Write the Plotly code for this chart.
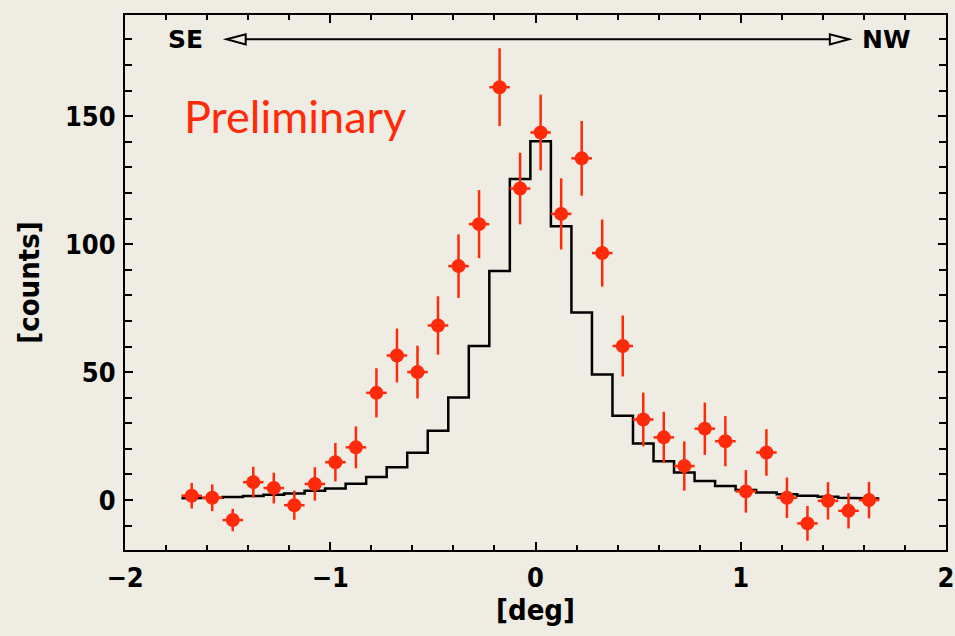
import plotly.graph_objects as go

# ---- data ----
bin_centers = [round(-1.675 + 0.1 * i, 3) for i in range(34)]
counts = [1.7, 0.9, -7.8, 7.0, 4.7, -2.0, 6.3, 14.8, 20.6, 41.9, 56.5, 50.0, 68.2,
          91.4, 107.8, 161.3, 121.7, 143.6, 111.8, 133.5, 96.5, 60.2, 31.5, 24.5,
          13.3, 27.9, 23.0, 3.4, 18.6, 0.9, -9.1, -0.3, -4.2, 0.0]
count_err = [5.0, 5.2, 4.4, 6.0, 6.0, 5.7, 6.5, 7.5, 8.2, 9.6, 10.5, 10.3, 11.4,
             12.4, 13.3, 15.2, 14.0, 14.8, 13.9, 14.6, 13.1, 11.9, 10.5, 10.0,
             9.6, 10.2, 9.8, 8.3, 9.1, 7.9, 6.8, 7.3, 6.9, 7.1]
model = [0.7, 0.9, 1.2, 1.6, 2.1, 2.6, 3.6, 4.5, 6.4, 9.0, 12.8, 18.5, 27.1, 40.1,
         60.2, 89.5, 125.4, 140.2, 107.0, 73.3, 49.1, 32.9, 22.1, 15.2, 10.8, 7.5,
         5.5, 3.9, 3.0, 2.3, 1.7, 1.3, 0.9, 0.65]
half_bin = 0.05
x_ticks = [-2, -1, 0, 1, 2]
y_ticks = [0, 50, 100, 150]

RED = "#ff2a0a"
BG = "#efece3"
FONT = "DejaVu Sans"
FONT_C = "DejaVu Sans Condensed, DejaVu Sans"

fig = go.Figure()

# model histogram (step line through bin edges)
step_x, step_y = [], []
for c, m in zip(bin_centers, model):
    step_x += [c - half_bin, c + half_bin]
    step_y += [m, m]
fig.add_trace(go.Scatter(x=step_x, y=step_y, mode="lines",
                         line=dict(color="black", width=2.5), hoverinfo="skip",
                         showlegend=False))

# data points with error bars
fig.add_trace(go.Scatter(
    x=bin_centers, y=counts, mode="markers",
    marker=dict(color=RED, size=14),
    error_y=dict(type="data", array=count_err, visible=True, color=RED,
                 thickness=2.5, width=0),
    error_x=dict(type="constant", value=half_bin, visible=True, color=RED,
                 thickness=2.5, width=0),
    showlegend=False))

# SE <-> NW arrow
ya = 180
x_left, x_right = -1.505, 1.527
ah_len, ah_h = 0.093, 2.0
fig.add_shape(type="line", x0=x_left + ah_len, x1=x_right - ah_len, y0=ya, y1=ya,
              line=dict(color="black", width=2))
fig.add_shape(type="path",
              path=f"M {x_left} {ya} L {x_left + ah_len} {ya + ah_h} L {x_left + ah_len} {ya - ah_h} Z",
              line=dict(color="black", width=2), fillcolor=BG)
fig.add_shape(type="path",
              path=f"M {x_right} {ya} L {x_right - ah_len} {ya + ah_h} L {x_right - ah_len} {ya - ah_h} Z",
              line=dict(color="black", width=2), fillcolor=BG)
fig.add_annotation(x=-1.705, y=ya, text="SE", showarrow=False, xanchor="center",
                   font=dict(family=FONT, size=25, color="black", weight="bold"))
fig.add_annotation(x=1.71, y=ya, text="NW", showarrow=False, xanchor="center",
                   font=dict(family=FONT, size=25, color="black", weight="bold"))
fig.add_annotation(x=-1.72, y=150, text="Preliminary", showarrow=False,
                   xanchor="left", yanchor="middle",
                   font=dict(family="Lato", size=45, color=RED))

axis_common = dict(showline=True, linecolor="black", linewidth=2, mirror="ticks",
                   ticks="inside", ticklen=8, tickwidth=2, tickcolor="black",
                   showgrid=False, zeroline=False,
                   tickfont=dict(family=FONT_C, size=27, color="black", weight="bold"))

fig.update_xaxes(range=[-2, 2], tickvals=x_ticks,
                 ticktext=[("\u2212" + str(-t)) if t < 0 else str(t) for t in x_ticks],
                 ticklabelstandoff=3, ticklabeloverflow="allow",
                 minor=dict(dtick=0.2, ticks="inside", ticklen=5, tickwidth=1.5, tickcolor="black"),
                 title=dict(text="[deg]", standoff=2,
                            font=dict(family=FONT_C, size=29, color="black", weight="bold")),
                 **axis_common)
fig.update_yaxes(range=[-19.5, 189.5], tickvals=y_ticks, ticklabelstandoff=2,
                 minor=dict(dtick=10, ticks="inside", ticklen=7, tickwidth=1.5, tickcolor="black"),
                 title=dict(text="[counts]", standoff=17,
                            font=dict(family=FONT_C, size=29, color="black", weight="bold")),
                 **axis_common)

fig.update_layout(width=955, height=636, margin=dict(l=125, r=1, t=15, b=86),
                  plot_bgcolor=BG, paper_bgcolor=BG)

fig.write_html("out.html")
